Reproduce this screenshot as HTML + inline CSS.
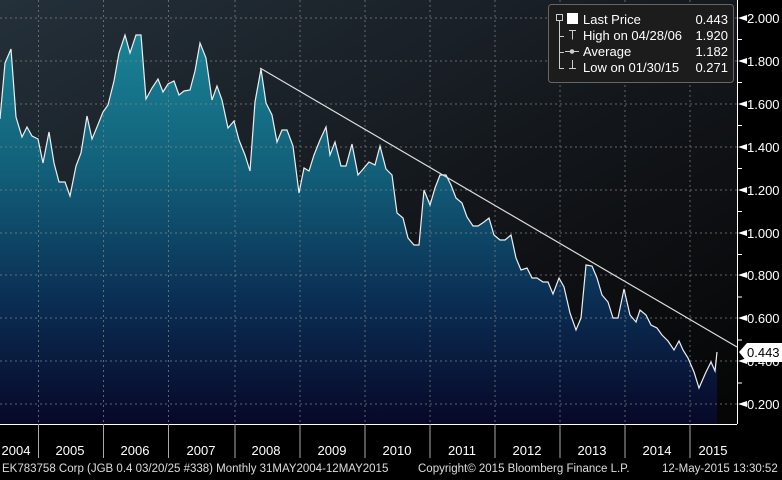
<!DOCTYPE html><html><head><style>body{margin:0;background:#000;width:782px;height:475px;overflow:hidden;font-family:"Liberation Sans",sans-serif}</style></head><body>
<svg width="782" height="475" xmlns="http://www.w3.org/2000/svg" font-family="Liberation Sans, sans-serif">
<defs><linearGradient id="g" x1="0" y1="30" x2="0" y2="424" gradientUnits="userSpaceOnUse">
<stop offset="0" stop-color="#1a8496"/><stop offset="0.35" stop-color="#12607a"/><stop offset="0.7" stop-color="#0a2c52"/><stop offset="1" stop-color="#070828"/></linearGradient>
<linearGradient id="bg" x1="0" y1="0" x2="1" y2="1"><stop offset="0" stop-color="#24303a"/><stop offset="0.6" stop-color="#111418"/><stop offset="1" stop-color="#050505"/></linearGradient></defs>
<rect width="782" height="475" fill="#000"/>
<rect x="0" y="0" width="737" height="424" fill="url(#bg)"/>
<path fill="url(#g)" d="M0,424 L0,119 5,63 11,49 16,117 22,137 27,127 32,136 38,139 43,163 49,132 54,163 59,182 65,182 70,196 76,166 81,153 87,116 92,139 97,127 103,112 108,105 114,81 119,53 125,35 130,53 136,35 141,35 146,99 152,88 158,79 163,92 168,84 174,81 179,95 184,91 190,90 195,71 200,43 206,58 212,100 217,86 222,100 228,128 234,121 239,140 245,155 250,171 255,102 261,69 266,103 272,115 277,142 282,130 287,130 293,146 299,193 304,168 309,171 314,155 320,140 326,127 330,155 335,142 341,166 346,166 352,144 358,175 364,168 369,162 375,165 380,146 386,169 392,175 397,213 403,218 408,238 414,245 419,245 424,190 430,205 435,188 440,175 446,175 451,185 456,198 462,203 467,217 473,226 478,226 484,222 489,218 494,235 500,240 505,240 511,235 516,258 521,270 527,268 532,278 537,278 543,282 548,282 553,294 559,278 564,287 570,313 576,330 581,318 586,265 592,266 597,278 602,295 608,302 613,318 618,318 624,289 630,315 636,322 640,310 646,315 651,325 657,328 662,335 668,341 674,350 679,341 683,350 688,358 694,372 699,388 706,372 711,362 715,371 717,352 L717,424 Z"/>
<g stroke="#888" stroke-dasharray="2,3" stroke-width="1" opacity="0.7">
<line x1="0" x2="737" y1="18" y2="18"/><line x1="0" x2="737" y1="61" y2="61"/><line x1="0" x2="737" y1="104" y2="104"/><line x1="0" x2="737" y1="147" y2="147"/><line x1="0" x2="737" y1="190" y2="190"/><line x1="0" x2="737" y1="233" y2="233"/><line x1="0" x2="737" y1="275" y2="275"/><line x1="0" x2="737" y1="318" y2="318"/><line x1="0" x2="737" y1="361" y2="361"/><line x1="0" x2="737" y1="404" y2="404"/>
<line x1="38.5" x2="38.5" y1="0" y2="424"/><line x1="103.5" x2="103.5" y1="0" y2="424"/><line x1="168.5" x2="168.5" y1="0" y2="424"/><line x1="235" x2="235" y1="0" y2="424"/><line x1="300" x2="300" y1="0" y2="424"/><line x1="365" x2="365" y1="0" y2="424"/><line x1="430" x2="430" y1="0" y2="424"/><line x1="495" x2="495" y1="0" y2="424"/><line x1="560" x2="560" y1="0" y2="424"/><line x1="625" x2="625" y1="0" y2="424"/><line x1="690" x2="690" y1="0" y2="424"/></g>
<polyline fill="none" stroke="#eee" stroke-width="1.2" points="0,119 5,63 11,49 16,117 22,137 27,127 32,136 38,139 43,163 49,132 54,163 59,182 65,182 70,196 76,166 81,153 87,116 92,139 97,127 103,112 108,105 114,81 119,53 125,35 130,53 136,35 141,35 146,99 152,88 158,79 163,92 168,84 174,81 179,95 184,91 190,90 195,71 200,43 206,58 212,100 217,86 222,100 228,128 234,121 239,140 245,155 250,171 255,102 261,69 266,103 272,115 277,142 282,130 287,130 293,146 299,193 304,168 309,171 314,155 320,140 326,127 330,155 335,142 341,166 346,166 352,144 358,175 364,168 369,162 375,165 380,146 386,169 392,175 397,213 403,218 408,238 414,245 419,245 424,190 430,205 435,188 440,175 446,175 451,185 456,198 462,203 467,217 473,226 478,226 484,222 489,218 494,235 500,240 505,240 511,235 516,258 521,270 527,268 532,278 537,278 543,282 548,282 553,294 559,278 564,287 570,313 576,330 581,318 586,265 592,266 597,278 602,295 608,302 613,318 618,318 624,289 630,315 636,322 640,310 646,315 651,325 657,328 662,335 668,341 674,350 679,341 683,350 688,358 694,372 699,388 706,372 711,362 715,371 717,352"/>
<line x1="260" y1="68" x2="737" y2="347" stroke="#ddd" stroke-width="1.2"/>
<line x1="737.5" y1="0" x2="737.5" y2="424" stroke="#fff"/>
<line x1="0" y1="424.5" x2="737" y2="424.5" stroke="#fff"/>
<g fill="#fff" font-size="13">
<g stroke="#fff"><line x1="737" x2="742" y1="39.5" y2="39.5"/><line x1="737" x2="742" y1="82.5" y2="82.5"/><line x1="737" x2="742" y1="125.5" y2="125.5"/><line x1="737" x2="742" y1="168.5" y2="168.5"/><line x1="737" x2="742" y1="211.5" y2="211.5"/><line x1="737" x2="742" y1="254.5" y2="254.5"/><line x1="737" x2="742" y1="297" y2="297"/><line x1="737" x2="742" y1="340" y2="340"/><line x1="737" x2="742" y1="383" y2="383"/></g>
<path d="M738,18 l9,-3 v6z M738,61 l9,-3 v6z M738,104 l9,-3 v6z M738,147 l9,-3 v6z M738,190 l9,-3 v6z M738,233 l9,-3 v6z M738,275 l9,-3 v6z M738,318 l9,-3 v6z M738,361 l9,-3 v6z M738,404 l9,-3 v6z"/>
<text x="747" y="23">2.000</text><text x="747" y="66">1.800</text><text x="747" y="109">1.600</text><text x="747" y="152">1.400</text><text x="747" y="195">1.200</text><text x="747" y="238">1.000</text><text x="747" y="280">0.800</text><text x="747" y="323">0.600</text><text x="747" y="366">0.400</text><text x="747" y="409">0.200</text>
</g>
<path d="M739,352 l8,-9 h35 v19 h-35z" fill="#fff"/>
<text x="747" y="357" font-size="13" fill="#000">0.443</text>
<g stroke="#aaa"><line x1="38.5" x2="38.5" y1="424" y2="458"/><line x1="103.5" x2="103.5" y1="424" y2="458"/><line x1="168.5" x2="168.5" y1="424" y2="458"/><line x1="235" x2="235" y1="424" y2="458"/><line x1="300" x2="300" y1="424" y2="458"/><line x1="365" x2="365" y1="424" y2="458"/><line x1="430" x2="430" y1="424" y2="458"/><line x1="495" x2="495" y1="424" y2="458"/><line x1="560" x2="560" y1="424" y2="458"/><line x1="625" x2="625" y1="424" y2="458"/><line x1="690" x2="690" y1="424" y2="458"/></g>
<g fill="#fff" font-size="13" text-anchor="middle"><text x="16" y="455">2004</text><text x="70" y="455">2005</text><text x="135" y="455">2006</text><text x="201" y="455">2007</text><text x="266" y="455">2008</text><text x="332" y="455">2009</text><text x="397" y="455">2010</text><text x="462" y="455">2011</text><text x="527" y="455">2012</text><text x="592" y="455">2013</text><text x="657" y="455">2014</text><text x="713" y="455">2015</text></g>
<g fill="#ddd" font-size="11.5"><text x="2" y="472">EK783758 Corp (JGB 0.4 03/20/25 #338)  Monthly 31MAY2004-12MAY2015</text><text x="418" y="472">Copyright© 2015 Bloomberg Finance L.P.</text><text x="662" y="472">12-May-2015 13:30:52</text></g>
<rect x="548.5" y="4.5" width="185" height="78" rx="3" fill="#1c1c1c" stroke="#666"/>
<g fill="#fff" font-size="13"><rect x="567" y="13" width="11" height="11"/>
<text x="583" y="24">Last Price</text><text x="728" y="24" text-anchor="end">0.443</text>
<text x="583" y="40">High on 04/28/06</text><text x="728" y="40" text-anchor="end">1.920</text>
<text x="583" y="56">Average</text><text x="728" y="56" text-anchor="end">1.182</text>
<text x="583" y="72">Low on 01/30/15</text><text x="728" y="72" text-anchor="end">0.271</text></g>
<g stroke="#ccc" fill="none"><rect x="556.5" y="14.5" width="6" height="6"/><line x1="559.5" y1="21" x2="559.5" y2="69"/><line x1="559.5" x2="564" y1="36.5" y2="36.5"/><line x1="559.5" x2="564" y1="52.5" y2="52.5"/><line x1="559.5" x2="564" y1="68.5" y2="68.5"/>
<path d="M569,30.5h7M572.5,30.5v9M565,51.5h14M569,68.5h7M572.5,60v8.5"/><circle cx="572" cy="51.5" r="1.8" fill="#ccc"/></g>
</svg></body></html>
